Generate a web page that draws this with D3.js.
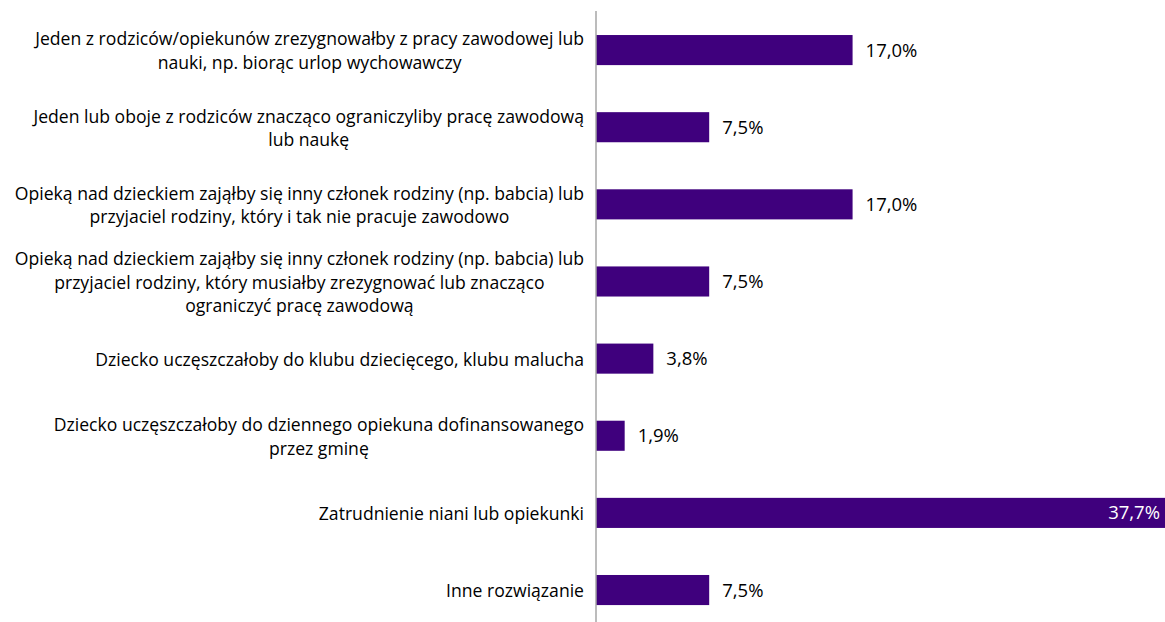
<!DOCTYPE html>
<html>
<head>
<meta charset="utf-8">
<script src="https://cdn.jsdelivr.net/npm/d3@7"></script>
<style>
  body { margin: 0; background: #fff; }
  svg { display: block; }
</style>
</head>
<body>
<div id="chart"></div>
<script>
// Categories (line breaks as in the original)
const categories = [
  "Jeden z rodziców/opiekunów zrezygnowałby z pracy zawodowej lub\nnauki, np. biorąc urlop wychowawczy",
  "Jeden lub oboje z rodziców znacząco ograniczyliby pracę zawodową\nlub naukę",
  "Opieką nad dzieckiem zająłby się inny członek rodziny (np. babcia) lub\nprzyjaciel rodziny, który i tak nie pracuje zawodowo",
  "Opieką nad dzieckiem zająłby się inny członek rodziny (np. babcia) lub\nprzyjaciel rodziny, który musiałby zrezygnować lub znacząco\nograniczyć pracę zawodową",
  "Dziecko uczęszczałoby do klubu dziecięcego, klubu malucha",
  "Dziecko uczęszczałoby do dziennego opiekuna dofinansowanego\nprzez gminę",
  "Zatrudnienie niani lub opiekunki",
  "Inne rozwiązanie"
];
const values = [17.0, 7.5, 17.0, 7.5, 3.8, 1.9, 37.7, 7.5];

const width = 1165;
const height = 622;
const axisX = 596;
const fontFamily = "'Open Sans', Lato, sans-serif";

const svg = d3.select("#chart")
  .append("svg")
    .attr("width", width)
    .attr("height", height);

const x = d3.scaleLinear()
  .domain([0, 37.7])
  .range([axisX, width]);

const y = d3.scaleBand()
  .domain(d3.range(categories.length))
  .range([11.5, 628.6])
  .paddingInner(0.61)
  .paddingOuter(0.305);

const fmt = v => d3.format(".1f")(v).replace(".", ",") + "%";

// Bars
svg.selectAll(".bar")
  .data(values)
  .join("rect")
    .attr("class", "bar")
    .attr("x", x(0))
    .attr("y", (d, i) => y(i))
    .attr("width", d => x(d) - x(0))
    .attr("height", y.bandwidth())
    .attr("fill", "#3f007d");

// Axis line
svg.append("line")
  .attr("x1", axisX)
  .attr("x2", axisX)
  .attr("y1", 11)
  .attr("y2", height)
  .attr("stroke", "#a6a6a6")
  .attr("stroke-width", 1.5);

// Value labels
svg.selectAll(".value")
  .data(values)
  .join("text")
    .attr("class", "value")
    .attr("x", d => d > 30 ? x(d) - 5 : x(d) + 13)
    .attr("y", (d, i) => y(i) + y.bandwidth() / 2)
    .attr("dy", "0.35em")
    .attr("text-anchor", d => d > 30 ? "end" : "start")
    .attr("fill", d => d > 30 ? "#fff" : "#000")
    .style("font-family", fontFamily)
    .style("font-size", "18.5px")
    .text(fmt);

// Category labels: lines centered within the block, block right-aligned
const lineH = 23.5;
const labels = svg.selectAll(".label")
  .data(categories)
  .join("text")
    .attr("class", "label")
    .attr("text-anchor", "middle")
    .attr("fill", "#000")
    .style("font-family", fontFamily)
    .style("font-size", "17.6px");

labels.each(function(d, i) {
  const lines = d.split("\n");
  const t = d3.select(this);
  const cy = y(i) + y.bandwidth() / 2 + 1;
  const tspans = t.selectAll("tspan")
    .data(lines)
    .join("tspan")
      .attr("dy", "0.35em")
      .attr("y", (l, j) => cy + (j - (lines.length - 1) / 2) * lineH)
      .text(l => l);
  let maxW = 0;
  tspans.each(function() { maxW = Math.max(maxW, this.getComputedTextLength()); });
  tspans.attr("x", axisX - 12 - maxW / 2);
});
</script>
</body>
</html>
